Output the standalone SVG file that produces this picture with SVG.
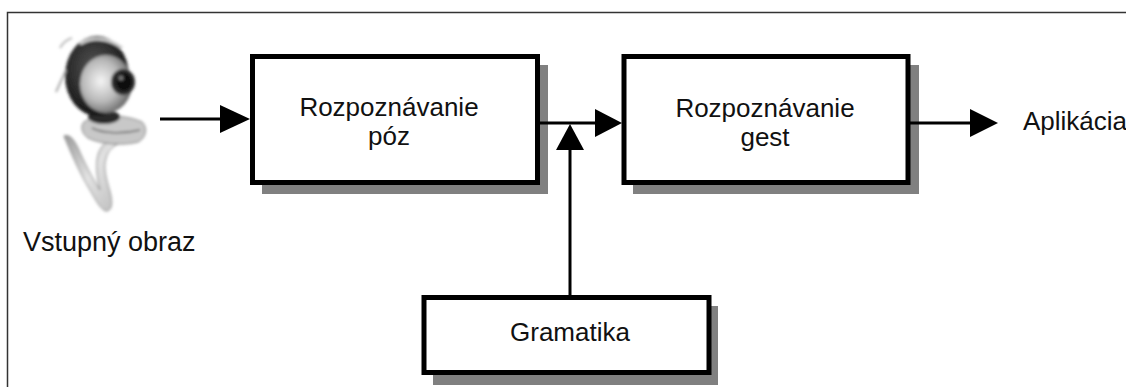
<svg xmlns="http://www.w3.org/2000/svg" width="1126" height="387" viewBox="0 0 1126 387">
  <style>
    .lbl { font-family: "Liberation Sans", Arial, sans-serif; font-size: 26px; fill: #111; }
    .box { fill: #fff; stroke: #000; stroke-width: 5; }
    .shadow { fill: #808080; }
    .wire { stroke: #000; stroke-width: 3; fill: none; }
    .head { fill: #000; }
  </style>
  <defs>
    <filter id="soft" x="-20%" y="-20%" width="140%" height="140%">
      <feGaussianBlur stdDeviation="1.4"/>
    </filter>
    <radialGradient id="silver" cx="0.4" cy="0.45" r="0.65">
      <stop offset="0" stop-color="#f4f4f4"/>
      <stop offset="0.55" stop-color="#b8b8b8"/>
      <stop offset="1" stop-color="#5a5a5a"/>
    </radialGradient>
    <radialGradient id="shell" cx="0.45" cy="0.4" r="0.6">
      <stop offset="0" stop-color="#555"/>
      <stop offset="1" stop-color="#151515"/>
    </radialGradient>
    <linearGradient id="clip" x1="0" y1="0" x2="1" y2="1">
      <stop offset="0" stop-color="#9a9a9a"/>
      <stop offset="0.5" stop-color="#e2e2e2"/>
      <stop offset="1" stop-color="#bdbdbd"/>
    </linearGradient>
  </defs>

  <rect width="1126" height="387" fill="#fff"/>
  <!-- outer frame: top and left edges only -->
  <path d="M7.5 387 V12.5 H1126" fill="none" stroke="#333" stroke-width="1.5"/>

  <!-- webcam -->
  <g id="webcam" filter="url(#soft)">
    <!-- clip stand -->
    <path d="M64 136 C70 150 78 170 90 190 C96 200 100 209 106 211 C112 211 113 203 110 192 C106 178 103 168 106 158 C108 150 114 146 118 144 L112 138 C104 142 98 150 97 160 C96 172 98 182 100 190 C92 178 84 162 78 148 C74 140 70 134 64 136 Z" fill="url(#clip)" stroke="#888" stroke-width="1"/>
    <!-- base plate -->
    <path d="M84 122 C96 114 124 114 142 122 C148 128 146 138 138 142 C122 146 100 144 88 138 C82 134 80 126 84 122 Z" fill="#c8c8c8" stroke="#7a7a7a" stroke-width="1"/>
    <path d="M92 128 C104 134 124 134 140 130" fill="none" stroke="#666" stroke-width="1.5"/>
    <!-- neck -->
    <ellipse cx="104" cy="117" rx="16" ry="7" fill="#2a2a2a"/>
    <!-- head shell -->
    <ellipse cx="97" cy="76" rx="32" ry="40" fill="url(#shell)"/>
    <!-- silver face -->
    <ellipse cx="106" cy="84" rx="26" ry="29" fill="url(#silver)"/>
    <!-- top highlight band -->
    <path d="M80 44 C92 36 110 38 122 48" fill="none" stroke="#cfcfcf" stroke-width="3"/>
    <!-- lens -->
    <ellipse cx="123" cy="82" rx="12" ry="13" fill="#2b2b2b"/>
    <ellipse cx="124" cy="82" rx="8" ry="9" fill="#0c0c0c"/>
    <ellipse cx="121" cy="78" rx="2.5" ry="2.5" fill="#777"/>
    <!-- side fin -->
    <path d="M66 70 L56 92" stroke="#aaa" stroke-width="2"/>
    <path d="M72 38 C66 40 62 44 60 48" stroke="#bbb" stroke-width="2" fill="none"/>
  </g>
  <text class="lbl" x="23" y="251" style="font-size:27px">Vstupný obraz</text>

  <!-- processing blocks -->
  <g id="pose">
    <rect class="shadow" x="262" y="65" width="286" height="129"/>
    <rect class="box" x="252.5" y="56.5" width="285" height="126"/>
    <text class="lbl" text-anchor="middle" x="389" y="116">Rozpoznávanie</text>
    <text class="lbl" text-anchor="middle" x="389" y="145">póz</text>
  </g>

  <g id="gesture">
    <rect class="shadow" x="633" y="65" width="286" height="129"/>
    <rect class="box" x="624" y="56.5" width="284" height="126"/>
    <text class="lbl" text-anchor="middle" x="765" y="117">Rozpoznávanie</text>
    <text class="lbl" text-anchor="middle" x="765" y="146">gest</text>
  </g>

  <g id="grammar">
    <rect class="shadow" x="433" y="306" width="285" height="79"/>
    <rect class="box" x="424" y="297.5" width="285" height="75"/>
    <text class="lbl" text-anchor="middle" x="570" y="341">Gramatika</text>
  </g>

  <g id="app">
    <text class="lbl" x="1023" y="130">Aplikácia</text>
  </g>

  <!-- connectors -->
  <g id="connectors">
    <line class="wire" x1="160" y1="119" x2="222" y2="119"/>
    <polygon class="head" points="220,105 250,119 220,133"/>

    <line class="wire" x1="540" y1="123" x2="597" y2="123"/>
    <polygon class="head" points="595,109 622,123 595,137"/>

    <line class="wire" x1="570" y1="295" x2="570" y2="148"/>
    <polygon class="head" points="556,150 570,124 584,150"/>

    <line class="wire" x1="910" y1="123" x2="972" y2="123"/>
    <polygon class="head" points="970,109 998,123 970,137"/>
  </g>
</svg>
